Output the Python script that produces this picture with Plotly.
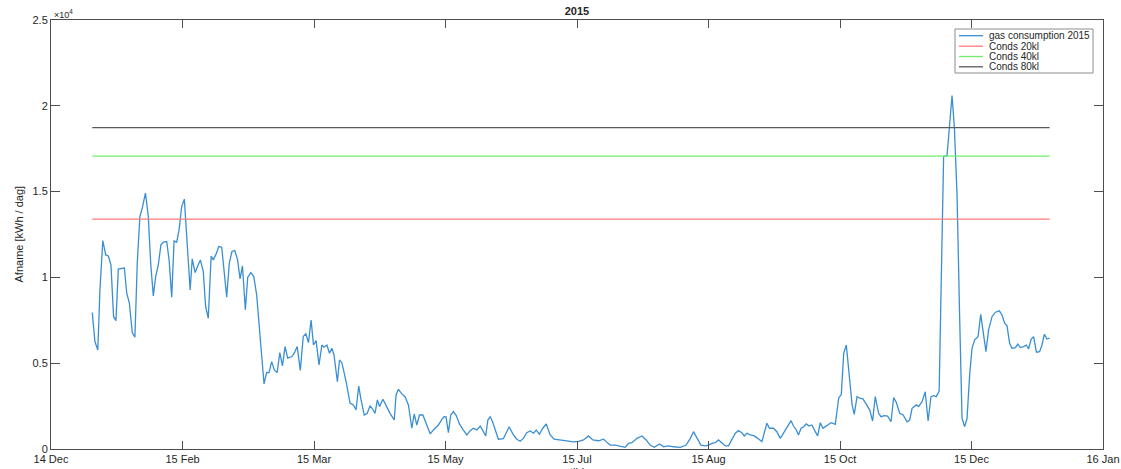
import plotly.graph_objects as go

# ---- data (day of year 2015, daily gas consumption in kWh/dag) ----
days = [1.0, 2.0, 3.1, 3.9, 5.0, 6.1, 7.1, 8.1, 9.1, 10.0,
        10.9, 13.2, 14.1, 15.1, 16.2, 17.2, 18.1, 19.1, 20.0, 21.2,
        22.3, 23.2, 24.2, 25.1, 26.1, 27.1, 28.0, 29.3, 30.2, 31.2,
        32.1, 33.1, 34.0, 35.0, 36.0, 37.0, 38.2, 39.0, 40.1, 41.1,
        42.1, 43.2, 44.1, 45.1, 46.2, 47.0, 48.1, 49.1, 50.2, 51.2,
        52.1, 53.1, 54.1, 55.2, 56.2, 57.2, 58.1, 59.2, 60.1, 61.3,
        62.4, 63.5, 64.8, 66.3,
        67.3, 68.2, 69.2, 70.2, 71.3, 72.3, 73.3, 74.3, 75.3, 76.9,
        77.8, 78.9, 80.1, 81.2, 82.2, 83.2, 84.2, 85.1, 86.1, 87.2,
        88.3, 89.1, 90.2, 91.2, 92.1, 92.9, 94.2, 95.0, 95.9, 97.5,
        99.0, 100.3, 101.3, 102.3, 103.2, 104.4, 105.5, 106.6, 107.6, 108.5,
        109.4, 110.2, 111.5, 112.7, 114.2, 115.8, 116.5, 117.4, 118.7, 119.9,
        121.2, 122.5, 123.4, 124.4, 125.4, 126.7, 127.9, 129.5, 130.7, 132.6,
        133.9, 134.8, 135.5, 136.4, 137.3, 138.3, 139.3, 140.6, 141.9, 143.4,
        144.7, 145.9, 147.2, 148.5, 149.7, 150.6, 151.4, 152.3, 153.2, 154.2,
        155.4, 157.3, 158.6, 159.5, 160.9, 162.4, 163.7, 164.9, 166.2, 167.5,
        168.8, 169.8, 171.0, 172.3, 173.6, 175.1,
        176.6, 178.9, 180.8, 182.1, 184.0, 185.9, 187.8, 189.7, 191.3, 193.5,
        195.4, 196.4, 197.9, 199.8, 201.7, 203.6, 204.9, 206.2, 208.1, 210.0,
        211.6, 213.1, 214.7, 216.7, 218.2, 220.1, 222.0, 224.6, 226.8, 228.4,
        229.6, 230.9, 232.4, 234.1, 235.3, 236.6, 237.9, 239.1, 240.4, 241.7,
        242.9, 244.2, 245.5, 246.7, 248.0, 248.9, 249.9, 251.2, 252.7, 254.0,
        255.6, 257.5, 258.5, 260.0, 261.3, 262.6, 264.1, 265.4, 266.7, 267.6,
        268.7, 269.5, 270.5, 271.5, 272.5, 273.5, 274.6, 275.9, 276.8, 277.8,
        278.8, 280.3, 281.9, 283.5, 284.8, 285.8, 286.7, 287.7, 288.9, 289.9,
        290.7, 291.8, 292.8, 294.0, 295.3, 296.6, 297.7, 298.7, 300.0, 300.9,
        302.2, 303.4, 304.7, 305.7, 306.7, 308.0, 309.3, 310.8, 311.8, 312.7,
        314.3, 315.2, 316.5, 317.7, 318.8, 319.9, 320.9, 321.9, 323.0, 323.7,
        324.7, 326.0, 327.0, 327.9, 328.8, 329.8, 330.8, 331.7, 332.7, 333.6,
        334.6, 335.5, 336.5, 337.8, 338.8, 339.7, 340.8, 341.8, 343.1, 344.4,
        345.9, 346.9, 347.9, 348.8, 349.8, 350.7, 352.0, 352.9, 353.9, 355.1,
        356.2, 357.0, 358.0, 358.9, 360.0, 361.2, 362.1, 363.0, 364.0, 365.0]

consumption = [7950, 6260, 5770, 9270, 12150, 11310, 11250, 10730, 7710, 7480,
               10480, 10540, 9080, 8500, 6780, 6510, 10830, 13550, 14040, 14910,
               13550, 10830, 8920, 10050, 10730, 11900, 12050, 12090, 11020, 8850,
               12130, 12050, 12770, 14130, 14560, 12380, 9270, 11080, 10280, 10670,
               11020, 10340, 8300, 7620, 11250, 11020, 11370, 11800, 11760, 10250,
               8850, 10830, 11510, 11560, 11060, 9910, 10670, 8110, 10010, 10280,
               10050, 8980, 6750, 3790,
               4460, 4450, 5090, 4610, 4450, 5620, 4840, 5970, 5290, 5390,
               5580, 5970, 4580, 6550, 6710, 6200, 7520, 6060, 6320, 4900,
               6060, 5930, 6060, 5580, 5870, 5480, 3920, 5190, 5030, 3920,
               2670, 2570, 2270, 3670, 2860, 1980, 2070, 2510, 2330, 2080,
               2860, 2470, 2900, 2510, 2080, 1690, 3150, 3480, 3210, 3050,
               2570, 1210, 2040, 1400, 1980, 1980, 1500, 880, 1110, 1400,
               1730, 1880, 1870, 950, 1980, 2180, 1980, 1460, 1150, 820,
               1070, 1210, 1110, 1340, 1010, 760, 1690, 1880, 1590, 1150,
               570, 600, 1070, 1300, 880, 570, 450, 620, 950, 1050,
               920, 1110, 860, 1210, 1460, 820,
               570, 530, 480, 430, 410, 450, 530, 760, 530, 480,
               570, 430, 230, 230, 180, 100, 330, 370, 620, 760,
               530, 230, 100, 290, 130, 180, 130, 100, 230, 620,
               1010, 620, 230, 180, 230, 330, 370, 530, 370, 180,
               180, 530, 920, 1070, 950, 760, 920, 820, 760, 620,
               430, 1500, 1210, 1210, 1010, 620, 1010, 1340, 1650, 1340,
               1110, 820, 1210, 1300, 1460, 1340, 1400, 1010, 760, 1530,
               1210, 1360, 1530, 1440, 2960, 3190, 5580, 6060, 4320, 2570,
               2020, 3050, 2960, 2920, 2610, 2270, 1630, 3050, 2080, 1880,
               1940, 1920, 1590, 2990, 2720, 2080, 1980, 1590, 1690, 2370,
               2570, 2470, 2760, 3340, 1630, 3050, 3110, 3050, 3380, 9560,
               17040, 17100, 19090, 20600, 18700, 14810, 7620, 1790, 1300, 1790,
               4320, 5870, 6360, 6550, 7850, 6750, 5670, 6940, 7710, 7970,
               8050, 7810, 7330, 7190, 6160, 5870, 5910, 6110, 5910, 5970,
               6060, 5830, 6410, 6550, 5640, 5670, 6060, 6690, 6410, 6460]

period = [1, 365]
cond_names = ["Conds 20kl", "Conds 40kl", "Conds 80kl"]
cond_values = [13400, 17070, 18730]
cond_colors = ["#ff7a7a", "#6ef06e", "#5a5a5a"]
series_name = "gas consumption 2015"
series_color = "#3a8fd3"

x_tick_labels = ["14 Dec", "15 Feb", "15 Mar", "15 May", "15 Jul",
                 "15 Aug", "15 Oct", "15 Dec", "16 Jan"]
x_first_tick = -14.7
x_tick_step = 50
y_tick_vals = [0, 5000, 10000, 15000, 20000, 25000]
y_tick_labels = ["0", "0.5", "1", "1.5", "2", "2.5"]

FONT = "Liberation Sans, Arial, Helvetica, sans-serif"
AX = "#4d4d4d"
TXT = "#262626"

fig = go.Figure()
fig.add_trace(go.Scatter(x=days, y=consumption, mode="lines", name=series_name,
                         line=dict(color=series_color, width=1.3), showlegend=False))
for nm, val, col in zip(cond_names, cond_values, cond_colors):
    fig.add_trace(go.Scatter(x=period, y=[val, val], mode="lines", name=nm,
                             line=dict(color=col, width=1.3), showlegend=False))

tickvals = [x_first_tick + x_tick_step * i for i in range(len(x_tick_labels))]

W, H = 1121, 469
PL, PR, PT, PB = 51, 1103, 20, 449          # plot area edges in page pixels
ML, MT, MR, MB = PL, PT, W - PR, H - PB
PW, PH = PR - PL, PB - PT

def pxx(px):
    return (px - PL) / PW

def pxy(py):
    return (PB - py) / PH

fig.update_layout(
    width=W, height=H,
    margin=dict(l=ML, r=MR, t=MT, b=MB, autoexpand=False),
    paper_bgcolor="white", plot_bgcolor="white",
    font=dict(family=FONT, size=11, color=TXT),
    title=dict(text="<b>2015</b>", x=pxx(577), xref="paper", xanchor="center",
               y=1 - 11 / H, yanchor="middle", font=dict(size=11, color=TXT)),
    xaxis=dict(range=[tickvals[0], tickvals[-1]], tickvals=tickvals, ticktext=x_tick_labels,
               automargin=False,
               showgrid=False, zeroline=False, showline=True, linecolor=AX, linewidth=1,
               mirror="ticks", ticks="inside", ticklen=8, tickcolor=AX, tickwidth=1,
               tickfont=dict(size=11, color=TXT)),
    yaxis=dict(range=[0, 25000], tickvals=y_tick_vals, ticktext=y_tick_labels,
               automargin=False,
               showgrid=False, zeroline=False, showline=True, linecolor=AX, linewidth=1,
               mirror="ticks", ticks="inside", ticklen=9, tickcolor=AX, tickwidth=1,
               tickfont=dict(size=11, color=TXT)),
)

# y axis title
fig.add_annotation(text="Afname [kWh / dag]", xref="paper", yref="paper",
                   x=pxx(18), y=0.5, xanchor="center", yanchor="middle", textangle=-90,
                   showarrow=False, font=dict(size=11, color=TXT))
# x10^4 exponent label
fig.add_annotation(text="×10<sup>4</sup>", xref="paper", yref="paper", x=0, y=1,
                   xanchor="left", yanchor="bottom", showarrow=False,
                   font=dict(size=9, color=TXT), xshift=1, yshift=-2)
# x axis title (mostly cut off at the bottom, as in the reference)
fig.add_annotation(text="tijd", xref="paper", yref="paper", x=0.5, y=0,
                   xanchor="center", yanchor="top", showarrow=False,
                   font=dict(size=11, color=TXT), yshift=-15)

# legend box drawn in paper coordinates
fig.add_shape(type="rect", xref="paper", yref="paper",
              x0=pxx(955), x1=pxx(1093), y0=pxy(73), y1=pxy(29),
              line=dict(color="#8c8c8c", width=1), fillcolor="white", layer="above")
leg_names = [series_name] + cond_names
leg_colors = [series_color] + cond_colors
leg_rows = [35.7, 46.2, 56.5, 66.8]
for nm, col, row in zip(leg_names, leg_colors, leg_rows):
    fig.add_shape(type="line", xref="paper", yref="paper",
                  x0=pxx(959), x1=pxx(983), y0=pxy(row), y1=pxy(row),
                  line=dict(color=col, width=1.3), layer="above")
    fig.add_annotation(text=nm, xref="paper", yref="paper", x=pxx(987), y=pxy(row),
                       xanchor="left", yanchor="middle", showarrow=False,
                       font=dict(size=10, color=TXT))

fig.write_html("out.html",
               config={"displayModeBar": False},
               post_script="document.body.style.margin='0';"
                           "document.body.style.overflow='hidden';")
